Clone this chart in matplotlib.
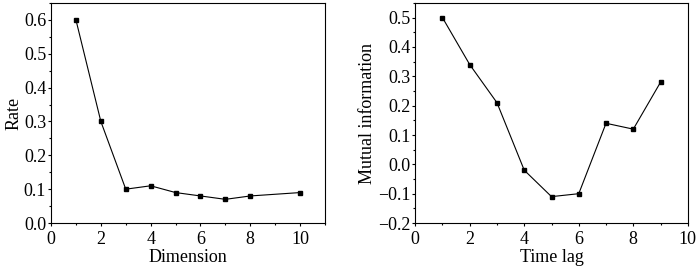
import matplotlib
matplotlib.use("Agg")
import matplotlib.pyplot as plt
from matplotlib.ticker import MultipleLocator

# left panel: rate vs embedding dimension
dim = [1, 2, 3, 4, 5, 6, 7, 8, 10]
rate = [0.6, 0.3, 0.1, 0.11, 0.09, 0.08, 0.07, 0.08, 0.09]

# right panel: mutual information vs time lag
lag = [1, 2, 3, 4, 5, 6, 7, 8, 9]
mutual_info = [0.5, 0.34, 0.21, -0.02, -0.11, -0.10, 0.14, 0.12, 0.28]

plt.rcParams["font.family"] = ["Liberation Serif", "DejaVu Serif"]
plt.rcParams["font.size"] = 13

fig = plt.figure(figsize=(6.99, 2.71), dpi=100)
ax1 = fig.add_axes([0.073, 0.177, 0.392, 0.812])
ax2 = fig.add_axes([0.594, 0.177, 0.390, 0.812])


def style(ax):
    ax.tick_params(which="both", direction="out", top=False, right=False,
                   width=0.8, labelsize=13, pad=1)
    ax.tick_params(axis="x", which="both", pad=3)
    ax.tick_params(which="major", length=2.5)
    ax.tick_params(which="minor", length=1.5)
    for s in ax.spines.values():
        s.set_linewidth(0.8)


ax1.plot(dim, rate, "-s", color="black", lw=0.8, ms=3)
ax1.set_xlim(0, 11)
ax1.set_ylim(0, 0.65)
ax1.xaxis.set_major_locator(MultipleLocator(2))
ax1.xaxis.set_minor_locator(MultipleLocator(1))
ax1.yaxis.set_major_locator(MultipleLocator(0.1))
ax1.yaxis.set_minor_locator(MultipleLocator(0.05))
ax1.set_xticks([0, 2, 4, 6, 8, 10])
ax1.set_yticklabels([f"{v:.1f}" for v in ax1.get_yticks()])
ax1.set_xlabel("Dimension", labelpad=1)
ax1.set_ylabel("Rate", labelpad=1)
style(ax1)

ax2.plot(lag, mutual_info, "-s", color="black", lw=0.8, ms=3)
ax2.set_xlim(0, 10)
ax2.set_ylim(-0.2, 0.55)
ax2.xaxis.set_major_locator(MultipleLocator(2))
ax2.xaxis.set_minor_locator(MultipleLocator(1))
ax2.set_yticks([-0.2, -0.1, 0.0, 0.1, 0.2, 0.3, 0.4, 0.5])
ax2.yaxis.set_minor_locator(MultipleLocator(0.05))
ax2.set_yticklabels([f"{v:.1f}".replace("-", "\u2212") for v in ax2.get_yticks()])
ax2.set_xlabel("Time lag", labelpad=1)
ax2.set_ylabel("Mutual information", labelpad=1)
style(ax2)

fig.savefig("out.png", dpi=100)
